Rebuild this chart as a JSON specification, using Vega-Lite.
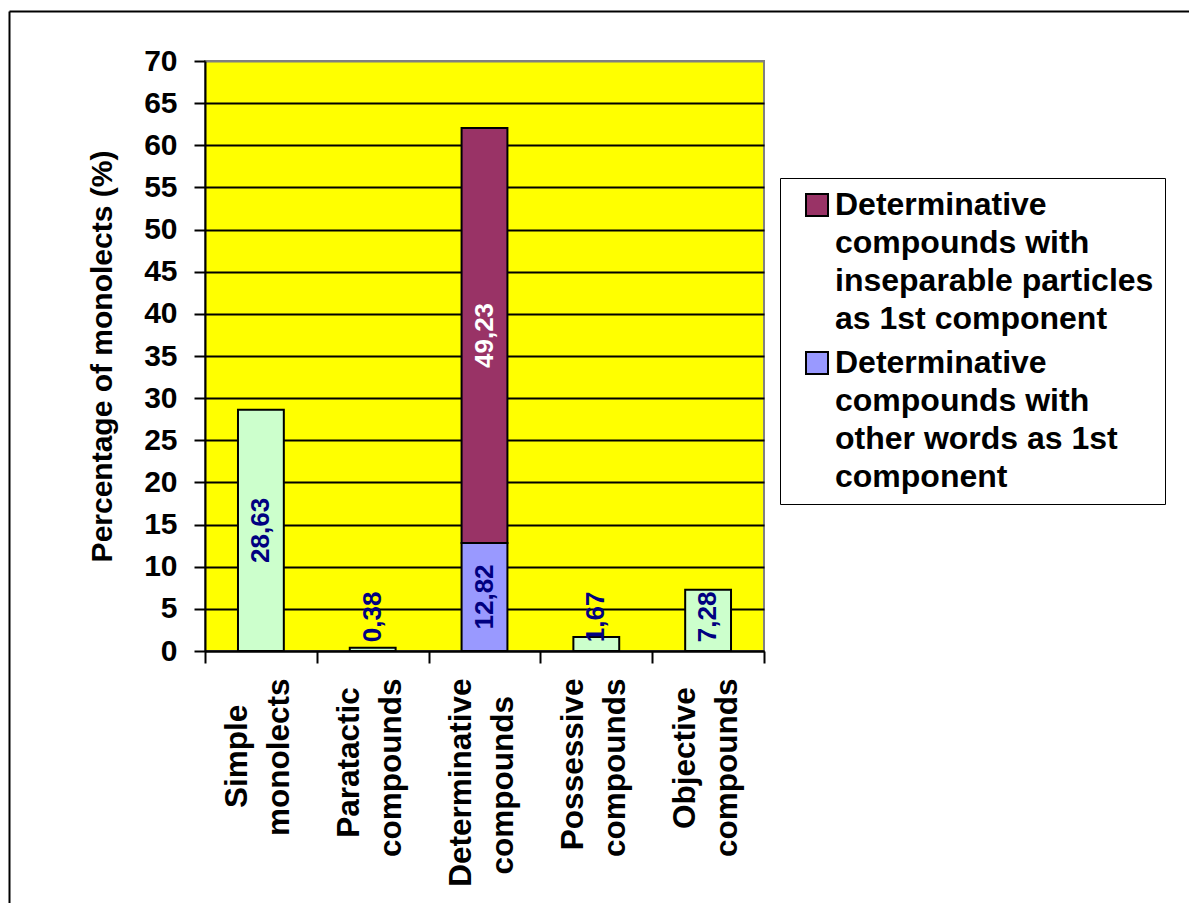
{
  "$schema": "https://vega.github.io/schema/vega-lite/v6.json",
  "width": 559,
  "height": 590,
  "autosize": {"type": "none"},
  "padding": {"left": 205, "top": 61, "right": 425, "bottom": 252},
  "background": "white",
  "config": {
    "font": "Liberation Sans",
    "locale": {"number": {"decimal": ",", "thousands": ".", "grouping": [3], "currency": ["", " €"]}},
    "view": {"fill": "#FFFF00", "stroke": "#808080", "strokeWidth": 2},
    "style": {"guide-label": {"lineHeight": 38}}
  },
  "data": {
    "values": [
      {"category": "Simple monolects", "series": "Monolects", "rank": 1, "value": 28.63},
      {"category": "Paratactic compounds", "series": "Monolects", "rank": 1, "value": 0.38},
      {"category": "Determinative compounds", "series": "Determinative compounds with other words as 1st component", "rank": 1, "value": 12.82},
      {"category": "Determinative compounds", "series": "Determinative compounds with inseparable particles as 1st component", "rank": 2, "value": 49.23},
      {"category": "Possessive compounds", "series": "Monolects", "rank": 1, "value": 1.67},
      {"category": "Objective compounds", "series": "Monolects", "rank": 1, "value": 7.28}
    ]
  },
  "transform": [
    {"stack": "value", "groupby": ["category"], "sort": [{"field": "rank", "order": "ascending"}], "as": ["v0", "v1"]},
    {"calculate": "max((datum.v0 + datum.v1) / 2, 4.05)", "as": "labelPos"}
  ],
  "layer": [
    {
      "layer": [
        {
          "mark": {"type": "bar", "stroke": "black", "strokeWidth": 2, "width": {"band": 0.41}},
          "encoding": {
            "x": {
              "field": "category",
              "type": "nominal",
              "sort": ["Simple monolects", "Paratactic compounds", "Determinative compounds", "Possessive compounds", "Objective compounds"],
              "scale": {"paddingInner": 0, "paddingOuter": 0},
              "axis": {
                "title": null,
                "labelAngle": 270,
                "labelAlign": "right",
                "labelBaseline": "middle",
                "labelFontSize": 31.5,
                "labelFontWeight": "bold",
                "labelColor": "black",
                "labelPadding": 15,
                "labelLineHeight": 42,
                "labelOffset": -23,
                "labelLimit": 400,
                "labelOverlap": false,
                "labelExpr": "datum.label == 'Simple monolects' ? ['Simple\u00a0\u00a0\u00a0\u200b', 'monolects'] : datum.label == 'Paratactic compounds' ? ['Paratactic\u00a0\u200b', 'compounds'] : datum.label == 'Determinative compounds' ? ['Determinative', 'compounds\u00a0\u00a0\u200b'] : datum.label == 'Objective compounds' ? ['Objective\u00a0\u200b', 'compounds'] : split(datum.label, ' ')",
                "tickBand": "extent",
                "tickSize": 12,
                "tickWidth": 2,
                "tickColor": "black",
                "domainColor": "black",
                "domainWidth": 2,
                "grid": false
              }
            },
            "y": {
              "field": "v0",
              "type": "quantitative",
              "scale": {"domain": [0, 70], "nice": false},
              "axis": {
                "title": "Percentage of monolects (%)",
                "titleFontSize": 30,
                "titleFontWeight": "bold",
                "titleColor": "black",
                "titlePadding": 26,
                "values": [0, 5, 10, 15, 20, 25, 30, 35, 40, 45, 50, 55, 60, 65, 70],
                "labelFontSize": 30,
                "labelFontWeight": "bold",
                "labelColor": "black",
                "labelPadding": 17,
                "labelFlush": false,
                "labelOverlap": false,
                "tickSize": 11,
                "tickWidth": 2,
                "tickColor": "black",
                "domainColor": "black",
                "domainWidth": 2,
                "grid": true,
                "gridColor": {"condition": {"test": "datum.value >= 70", "value": "#808080"}, "value": "black"},
                "gridWidth": 2
              }
            },
            "y2": {"field": "v1"},
            "color": {
              "field": "series",
              "type": "nominal",
              "scale": {
                "domain": ["Determinative compounds with inseparable particles as 1st component", "Determinative compounds with other words as 1st component", "Monolects"],
                "range": ["#993366", "#9999FF", "#CCFFCC"]
              },
              "legend": {
                "orient": "none",
                "legendX": 575,
                "legendY": 117,
                "title": null,
                "values": ["Determinative compounds with inseparable particles as 1st component", "Determinative compounds with other words as 1st component"],
                "symbolType": "square",
                "symbolSize": 484,
                "symbolStrokeColor": "black",
                "symbolStrokeWidth": 2,
                "symbolOffset": 10,
                "labelFontSize": 32,
                "labelFontWeight": "bold",
                "labelColor": "black",
                "labelLimit": 500,
                "labelOffset": 2,
                "padding": 11,
                "rowPadding": 12,
                "strokeColor": "black",
                "fillColor": "white",
                "labelExpr": "datum.label == 'Determinative compounds with inseparable particles as 1st component' ? ['Determinative', 'compounds with', 'inseparable particles', 'as 1st component'] : ['Determinative', 'compounds with', 'other words as 1st', 'component']"
              }
            }
          }
        },
        {
          "transform": [{"filter": "datum.rank == 1"}],
          "mark": {"type": "text", "angle": 270, "fontSize": 26, "fontWeight": "bold", "align": "center", "baseline": "middle", "color": "#000080"},
          "encoding": {
            "x": {"field": "category", "type": "nominal", "sort": ["Simple monolects", "Paratactic compounds", "Determinative compounds", "Possessive compounds", "Objective compounds"]},
            "y": {"field": "labelPos", "type": "quantitative"},
            "text": {"field": "value", "type": "quantitative", "format": ".2f"}
          }
        },
        {
          "transform": [{"filter": "datum.rank == 2"}],
          "mark": {"type": "text", "angle": 270, "fontSize": 26, "fontWeight": "bold", "align": "center", "baseline": "middle", "color": "white"},
          "encoding": {
            "x": {"field": "category", "type": "nominal", "sort": ["Simple monolects", "Paratactic compounds", "Determinative compounds", "Possessive compounds", "Objective compounds"]},
            "y": {"field": "labelPos", "type": "quantitative"},
            "text": {"field": "value", "type": "quantitative", "format": ".2f"}
          }
        }
      ]
    },
    {
      "mark": {"type": "point", "opacity": 0},
      "encoding": {
        "x": {
          "field": "value",
          "type": "quantitative",
          "scale": {"domain": [0, 100], "range": [-196, 984], "nice": false, "zero": false},
          "axis": {"orient": "top", "offset": 50, "title": null, "labels": false, "ticks": false, "grid": false, "domainColor": "black", "domainWidth": 2}
        },
        "y": {
          "field": "value",
          "type": "quantitative",
          "scale": {"domain": [0, 100], "range": [842, -50], "nice": false, "zero": false},
          "axis": {"orient": "left", "offset": 196, "title": null, "labels": false, "ticks": false, "grid": false, "domainColor": "black", "domainWidth": 2}
        }
      }
    }
  ],
  "resolve": {"scale": {"x": "independent", "y": "independent"}, "axis": {"x": "independent", "y": "independent"}}
}
